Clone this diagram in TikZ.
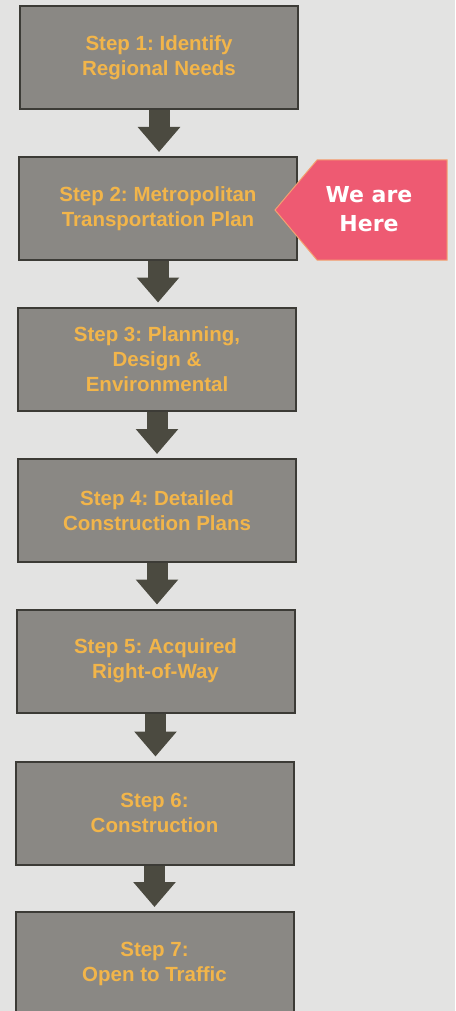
\documentclass[tikz,border=0pt]{standalone}
\usepackage{fontspec}
\setmainfont{Liberation Sans}
\newfontfamily\herefont{DejaVu Sans}
\usetikzlibrary{arrows.meta}
\frenchspacing
\definecolor{bg}{HTML}{E3E3E2}
\definecolor{boxfill}{HTML}{8A8884}
\definecolor{boxline}{HTML}{3C3B36}
\definecolor{steptext}{HTML}{F2B54A}
\definecolor{arrowc}{HTML}{4B4A40}
\definecolor{herefill}{HTML}{EE5A72}
\definecolor{hereline}{HTML}{F4A070}
\begin{document}
\begin{tikzpicture}[x=1pt,y=-1pt,
  stepbox/.style={draw=boxline, line width=2pt, fill=boxfill,
    minimum width=278pt, minimum height=103pt, inner sep=0pt,
    align=center, text=steptext,
    font=\fontsize{20.5}{25}\selectfont\bfseries\frenchspacing},
  flow/.style={draw=arrowc, line width=21pt,
    -{Triangle[width=41pt,length=25pt]}, shorten >=4pt}]
\clip (0,0) rectangle (455,1011);
\fill[bg] (0,0) rectangle (455,1011);

\node[stepbox] (b1) at (159,57.5) {Step 1: Identify\\Regional Needs};
\node[stepbox] (b2) at (158,208.5) {Step 2: Metropolitan\\Transportation Plan};
\node[stepbox] (b3) at (157,359) {Step 3: Planning,\\Design \&\\Environmental};
\node[stepbox] (b4) at (157,510.5) {Step 4: Detailed\\Construction Plans};
\node[stepbox] (b5) at (155.5,661) {Step 5: Acquired\\Right-of-Way};
\node[stepbox] (b6) at (154.5,813) {Step 6:\\Construction};
\node[stepbox] (b7) at (154.5,963.5) {Step 7:\\Open to Traffic};

\draw[flow] (b1.south) -- (b1.south |- b2.north);
\draw[flow] (b2.south) -- (b2.south |- b3.north);
\draw[flow] (b3.south) -- (b3.south |- b4.north);
\draw[flow] (b4.south) -- (b4.south |- b5.north);
\draw[flow] (b5.south) -- (b5.south |- b6.north);
\draw[flow] (b6.south) -- (b6.south |- b7.north);

\fill[herefill, draw=hereline, line width=1pt]
  (275,210) -- (317,160) -- (447,160) -- (447,260) -- (317,260) -- cycle;
\node[text=white, font=\herefont\bfseries\fontsize{22}{29}\selectfont,
  align=center, inner sep=0pt] (here) at (369,209) {We are\\Here};
\end{tikzpicture}
\end{document}
